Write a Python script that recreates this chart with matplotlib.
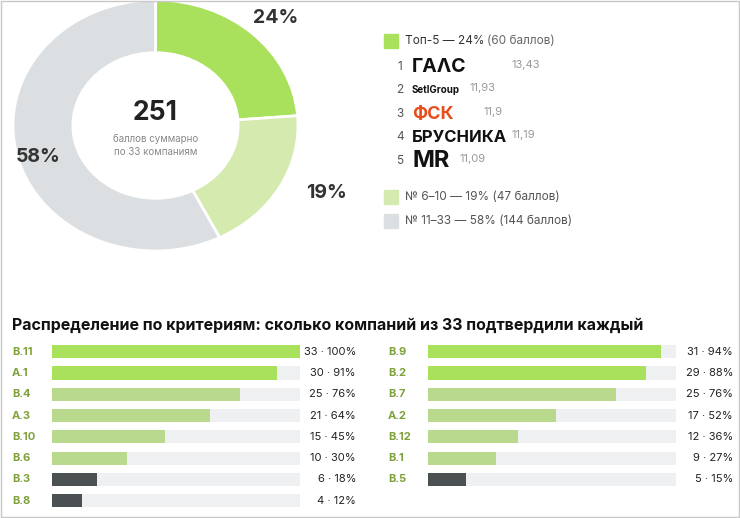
import matplotlib.pyplot as plt
from matplotlib.patches import Rectangle
import matplotlib.transforms as mtransforms

plt.rcParams['font.family'] = ['Inter', 'DejaVu Sans']

# данные
shares = [24, 19, 58]
share_colors = ['#a9e05c', '#d5eaae', '#dcdfe1']
legend_groups = ['Топ-5 — 24%', '№ 6–10 — 19% (47 баллов)', '№ 11–33 — 58% (144 баллов)']
top5_names = ['ГАΛС', 'SetlGroup', 'ФСК', 'БРУСНИКА', 'MR']
top5_scores = ['13,43', '11,93', '11,9', '11,19', '11,09']

left_codes = ['B.11', 'A.1', 'B.4', 'A.3', 'B.10', 'B.6', 'B.3', 'B.8']
left_vals = [33, 30, 25, 21, 15, 10, 6, 4]
left_pct = [100, 91, 76, 64, 45, 30, 18, 12]
right_codes = ['B.9', 'B.2', 'B.7', 'A.2', 'B.12', 'B.1', 'B.5']
right_vals = [31, 29, 25, 17, 12, 9, 5]
right_pct = [94, 88, 76, 52, 36, 27, 15]
total = 33

W, H = 740, 518
fig = plt.figure(figsize=(W / 100, H / 100), dpi=100)
fig.patches.append(Rectangle((0.002, 0.002), 0.996, 0.996, transform=fig.transFigure,
                             fill=False, ec='#c8c8c8', lw=1))

def ax_px(x0, y0, x1, y1):
    return fig.add_axes([x0 / W, 1 - y1 / H, (x1 - x0) / W, (y1 - y0) / H])

# кольцевая диаграмма
ax = ax_px(13, 0, 298, 251)
ax.pie(shares, colors=share_colors, startangle=90, counterclock=False,
       wedgeprops=dict(width=0.42, edgecolor='white', linewidth=2))
ax.set_xlim(-1, 1); ax.set_ylim(-1, 1)
ax.set_aspect('auto'); ax.axis('off')
ax.text(0, 0.1, '251', ha='center', va='center', fontsize=19, fontweight='bold', color='#222222')
ax.text(0, -0.16, 'баллов суммарно\nпо 33 компаниям', ha='center', va='center',
        fontsize=7, color='#888888', linespacing=1.4)
fig.text(276 / W, 1 - 18 / H, '24%', ha='center', va='center', fontsize=14, fontweight='bold', color='#333333')
fig.text(326 / W, 1 - 193 / H, '19%', ha='center', va='center', fontsize=14, fontweight='bold', color='#333333')
fig.text(38 / W, 1 - 157 / H, '58%', ha='center', va='center', fontsize=14, fontweight='bold', color='#333333')

# легенда
def sq(x, y, c):
    fig.patches.append(Rectangle((x / W, 1 - (y + 7) / H), 14 / W, 14 / H,
                                 transform=fig.transFigure, color=c))
sq(384, 41, share_colors[0])
fig.text(405 / W, 1 - 41 / H, 'Топ-5 — 24%', va='center', fontsize=8.5, color='#333333')
fig.text(487 / W, 1 - 41 / H, '(60 баллов)', va='center', fontsize=8.5, color='#666666')
ys = [67, 90, 114, 137, 161]
sizes = [14, 7, 13, 12, 17]
score_x = [512, 470, 484, 511, 460]
for i in range(5):
    y = ys[i]
    fig.text(400 / W, 1 - y / H, str(i + 1), ha='center', va='center', fontsize=8.5, color='#555555')
    fig.text(412 / W, 1 - y / H, top5_names[i], va='center', fontsize=sizes[i],
             fontweight='bold', color='#e84e1b' if i == 2 else '#111111')
    fig.text(score_x[i] / W, 1 - (y - 2) / H, top5_scores[i], va='center', fontsize=8, color='#999999')
sq(384, 197, share_colors[1])
fig.text(405 / W, 1 - 197 / H, legend_groups[1], va='center', fontsize=8.5, color='#555555')
sq(384, 221, share_colors[2])
fig.text(405 / W, 1 - 221 / H, legend_groups[2], va='center', fontsize=8.5, color='#555555')

fig.text(12 / W, 1 - 325 / H, 'Распределение по критериям: сколько компаний из 33 подтвердили каждый',
         va='center', fontsize=11.5, fontweight='bold', color='#111111')

def bar_color(v):
    if v >= 29:
        return '#a9e05c'
    if v >= 8:
        return '#b9d98c'
    return '#4b5152'

def panel(codes, vals, pct, x0, x1, lab_x, val_x):
    n = len(codes)
    step = 21.3
    top = 341
    a = ax_px(x0, top, x1, top + step * n)
    ypos = list(range(n))
    a.barh(ypos, [total] * n, height=0.62, color='#eef0f1')
    a.barh(ypos, vals, height=0.62, color=[bar_color(v) for v in vals])
    a.set_xlim(0, total); a.set_ylim(n - 0.5, -0.5)
    a.axis('off')
    tr = mtransforms.blended_transform_factory(fig.transFigure, a.transData)
    for i in range(n):
        a.text(lab_x / W, i, codes[i], transform=tr, va='center', fontsize=8,
               fontweight='bold', color='#7ea13c')
        a.text(val_x / W, i, f'{vals[i]} · {pct[i]}%', transform=tr, va='center', ha='right',
               fontsize=8, color='#222222')

panel(left_codes, left_vals, left_pct, 52, 300, 12, 356)
panel(right_codes, right_vals, right_pct, 428, 676, 388, 733)

fig.savefig('out.png', dpi=100)
